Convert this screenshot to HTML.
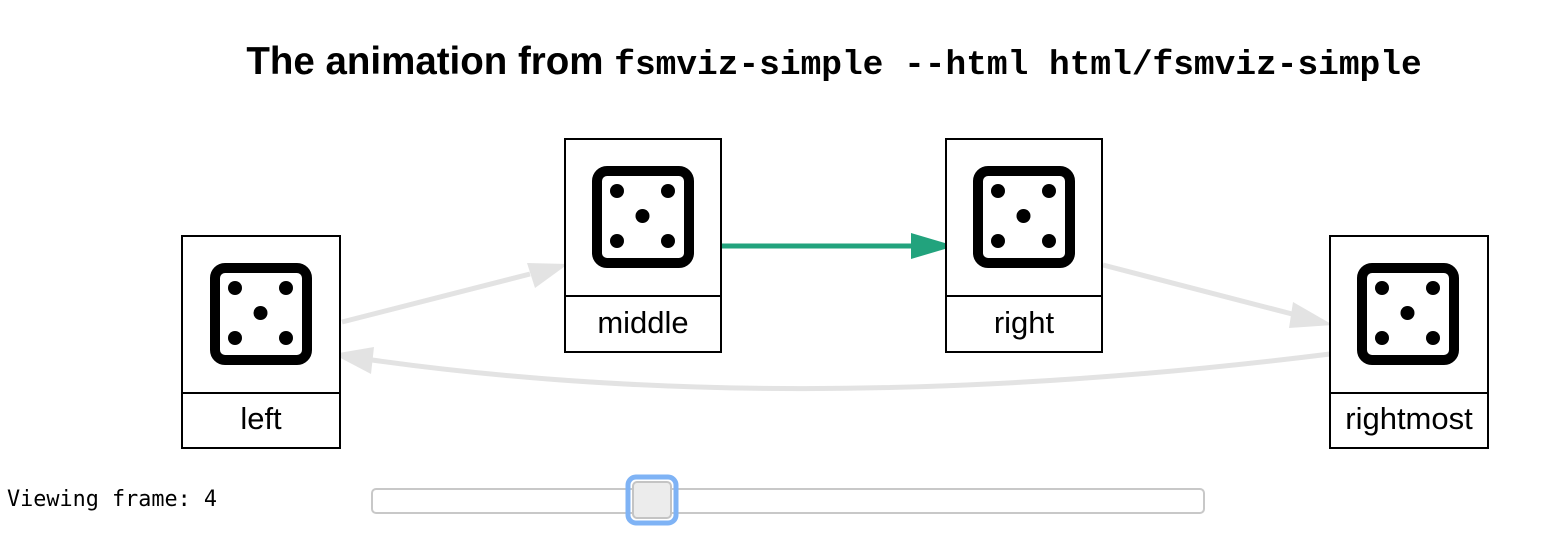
<!DOCTYPE html>
<html><head><style>
body{margin:0;width:1558px;height:540px;background:#fff;overflow:hidden;position:relative;}
h1{position:absolute;top:40px;left:0;width:1668px;margin:0;text-align:center;font:bold 38.5px "Liberation Sans",sans-serif;color:#000;}
h1 code{font-family:"Liberation Mono",monospace;font-size:34.5px;font-weight:bold;}
.lbl{position:absolute;left:7px;top:487px;font:21.8px "DejaVu Sans Mono","Liberation Mono",monospace;}
</style></head><body>
<h1>The animation from <code>fsmviz-simple --html html/fsmviz-simple</code></h1>
<svg width="1558" height="540" style="position:absolute;left:0;top:0" font-family="Liberation Sans,sans-serif">
<defs>
<g id="die">
<rect x="5" y="5" width="92" height="92" rx="10" fill="none" stroke="#000" stroke-width="10"/>
<circle cx="25" cy="25" r="7"/><circle cx="76" cy="25" r="7"/><circle cx="50.5" cy="50" r="7"/>
<circle cx="25" cy="75" r="7"/><circle cx="76" cy="75" r="7"/>
</g>
</defs>
<line x1="342" y1="322" x2="530" y2="274" stroke="#e3e3e3" stroke-width="5"/>
<polygon points="568,264 527,263 535,288" fill="#e3e3e3"/>
<line x1="722" y1="246" x2="915" y2="246" stroke="#22a37d" stroke-width="5"/>
<polygon points="955,246 911,233 911,259" fill="#22a37d"/>
<line x1="1103" y1="265" x2="1296" y2="315" stroke="#e3e3e3" stroke-width="5"/>
<polygon points="1333,325 1293,302 1289,328" fill="#e3e3e3"/>
<path d="M1330,354 Q800,420 372,360" fill="none" stroke="#e3e3e3" stroke-width="5"/>
<polygon points="333,354 374,347 371,374" fill="#e3e3e3"/>
<g fill="#fff" stroke="#000" stroke-width="2">
<rect x="182" y="236" width="158" height="212"/><line x1="182" y1="393" x2="340" y2="393"/>
<rect x="565" y="139" width="156" height="213"/><line x1="565" y1="296" x2="721" y2="296"/>
<rect x="946" y="139" width="156" height="213"/><line x1="946" y1="296" x2="1102" y2="296"/>
<rect x="1330" y="236" width="158" height="212"/><line x1="1330" y1="393" x2="1488" y2="393"/>
</g>
<use href="#die" x="210" y="263"/>
<use href="#die" x="592" y="166"/>
<use href="#die" x="973" y="166"/>
<use href="#die" x="1357" y="263"/>
<g font-size="31" text-anchor="middle" fill="#000">
<text x="261" y="429">left</text>
<text x="643" y="333">middle</text>
<text x="1024" y="333">right</text>
<text x="1409" y="429">rightmost</text>
</g>
<rect x="372" y="489" width="832" height="24" rx="4" fill="#fff" stroke="#c8c8c8" stroke-width="2"/>
<rect x="628" y="477" width="48" height="46" rx="8" fill="none" stroke="#7fb3f5" stroke-width="5"/>
<rect x="633" y="482" width="38" height="36" rx="4" fill="#ececec" stroke="#c4c4c4" stroke-width="2"/>
</svg>
<div class="lbl">Viewing frame: 4</div>
</body></html>
